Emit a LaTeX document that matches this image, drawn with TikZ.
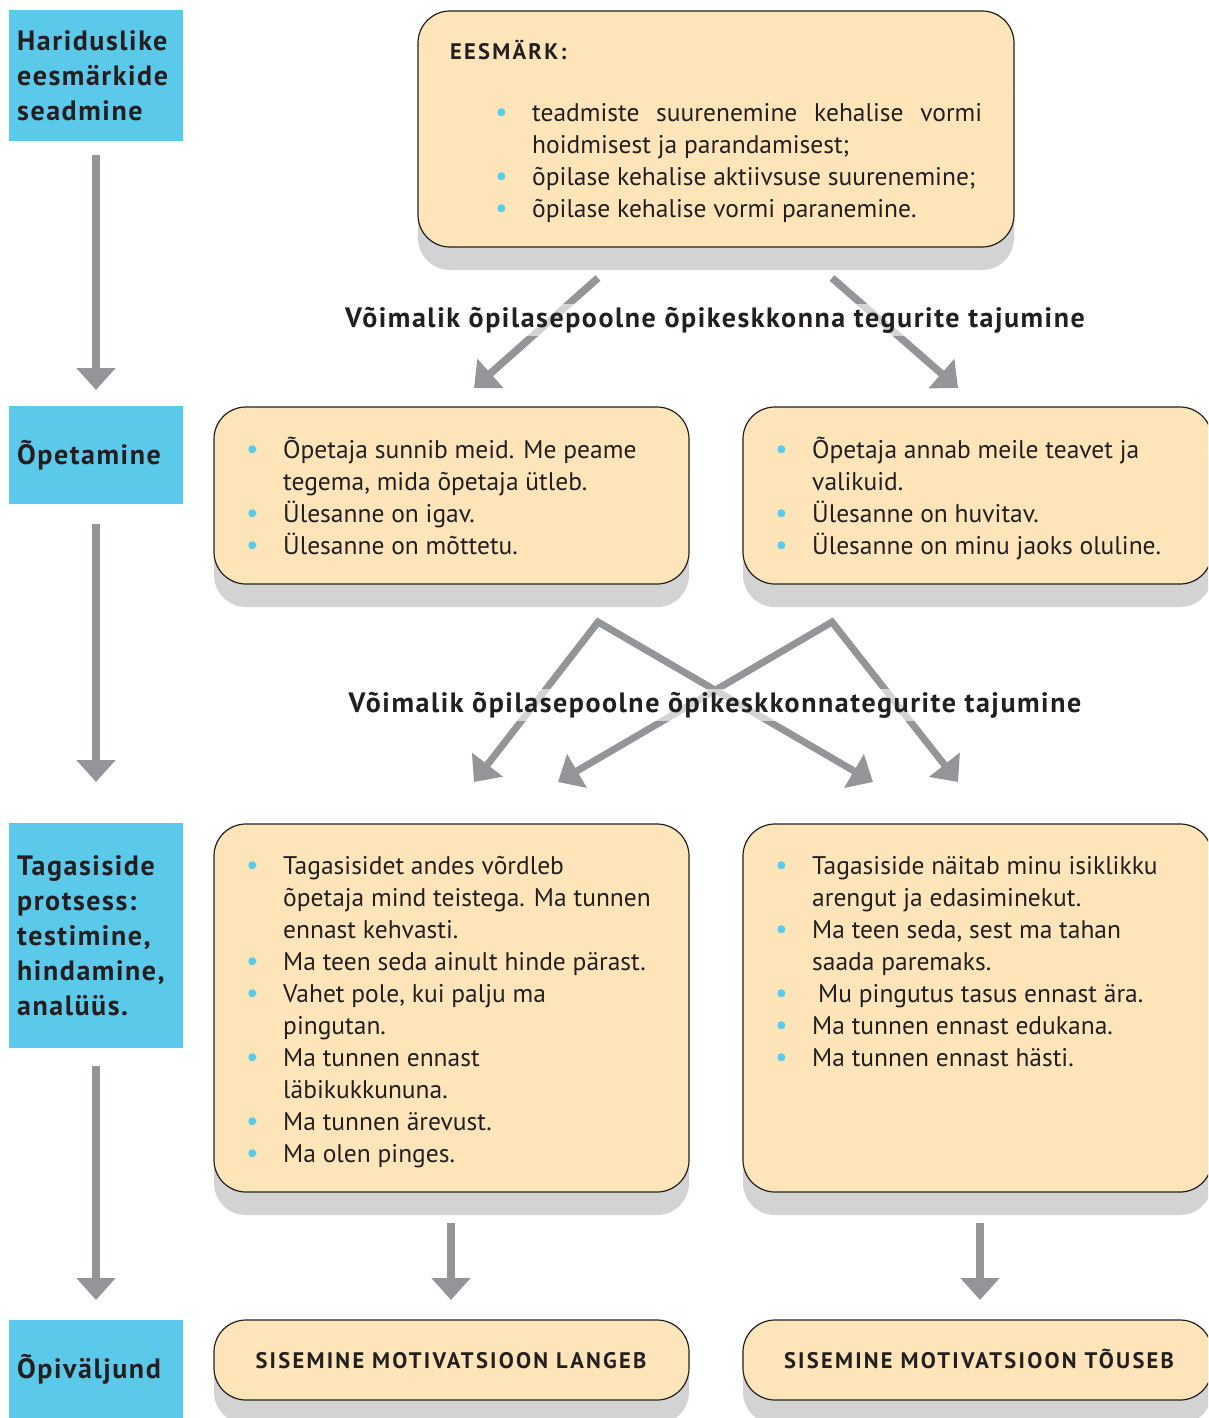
\documentclass[tikz,border=0pt]{standalone}
\usepackage{fontspec}
\setmainfont{PT Sans}
\newfontfamily\trackfont[LetterSpace=10]{PT Sans}
\newfontfamily\labfont[LetterSpace=5.5]{PT Sans}
\usetikzlibrary{arrows.meta}
\definecolor{peach}{HTML}{FDE5B9}
\definecolor{sky}{HTML}{5BC9E9}
\definecolor{arrg}{HTML}{939598}
\definecolor{shad}{HTML}{D3D3D4}
\definecolor{ink}{HTML}{231F20}
\newcommand\bul{\leavevmode\llap{\makebox[37pt][l]{\textcolor{sky}{\fontsize{28}{32}\selectfont•}}}}
\begin{document}
\begin{tikzpicture}[x=1pt,y=-1pt,
  sidebox/.style={fill=sky, inner xsep=8pt, inner ysep=0pt, anchor=north west, minimum width=174pt,
     text width=158pt, align=left, font=\labfont\fontsize{28}{35}\selectfont\bfseries, text=ink},
  peachbox/.style={draw=ink, line width=1.2pt, fill=peach, rounded corners=32pt, inner sep=0pt},
  shadowbox/.style={fill=shad, rounded corners=32pt},
  arrow/.style={draw=arrg, line width=7.5pt, line join=miter, -{Triangle[width=38pt,length=22pt]}},
  twoarrow/.style={draw=arrg, line width=7pt, line join=miter, {Triangle[width=38pt,length=22pt]}-{Triangle[width=38pt,length=22pt]}},
  bodytext/.style={font=\fontsize{25.5}{32}\selectfont, text=ink, inner sep=0pt, anchor=north west, align=left},
  midlabel/.style={font=\labfont\fontsize{28}{32}\selectfont\bfseries, text=ink, fill=white, fill opacity=0.6, text opacity=1, inner xsep=0pt, inner ysep=3pt, anchor=base},
  captext/.style={font=\trackfont\fontsize{22.5}{28}\selectfont\bfseries, text=ink, inner sep=0pt}
]
\useasboundingbox (0,0) rectangle (1208,1418);
\clip (0,0) rectangle (1208,1418);

% side boxes
\node[sidebox, minimum height=131pt] (s1) at (9,10) {Hariduslike\\eesmärkide\\seadmine};
\node[sidebox, minimum height=98pt] (s2) at (9,406) {Õpetamine};
\node[sidebox, minimum height=225pt] (s3) at (9,823) {Tagasiside\\protsess:\\testimine,\\hindamine,\\analüüs.};
\node[sidebox, minimum height=98pt] (s4) at (9,1320) {Õpiväljund};

% side arrows
\coordinate (v1s) at (96,155); \coordinate (v1e) at (96,390);
\coordinate (v2s) at (96,524); \coordinate (v2e) at (96,782);
\coordinate (v3s) at (96,1066); \coordinate (v3e) at (96,1300);
\draw[arrow] (v1s) -- (v1e);
\draw[arrow] (v2s) -- (v2e);
\draw[arrow] (v3s) -- (v3e);

% shadows
\fill[shadowbox] (418,60) rectangle (1014,270);
\fill[shadowbox] (214,440) rectangle (689,607);
\fill[shadowbox] (743,440) rectangle (1212,607);
\fill[shadowbox] (214,860) rectangle (689,1215);
\fill[shadowbox] (743,860) rectangle (1212,1215);
\fill[shadowbox] (214,1345) rectangle (689,1424);
\fill[shadowbox] (743,1345) rectangle (1212,1424);

% peach boxes
\node[peachbox, minimum width=596pt, minimum height=236pt] (goal) at (716,129) {};
\node[peachbox, minimum width=475pt, minimum height=177pt] (tl) at (451.5,495.5) {};
\node[peachbox, minimum width=469pt, minimum height=177pt] (tr) at (977.5,495.5) {};
\node[peachbox, minimum width=475pt, minimum height=368pt] (fl) at (451.5,1008) {};
\node[peachbox, minimum width=469pt, minimum height=368pt] (fr) at (977.5,1008) {};
\node[peachbox, minimum width=475pt, minimum height=80pt] (ol) at (451.5,1360) {};
\node[peachbox, minimum width=469pt, minimum height=80pt] (or) at (977.5,1360) {};

% texts
\node[captext, anchor=base west] (goalh) at (450,60) {EESMÄRK:};
\node[bodytext, text width=450pt, align=justify] (goalt) at (532,98.6)
 {\strut\bul teadmiste suurenemine kehalise vormi\linebreak hoidmisest ja parandamisest;\par
  \bul õpilase kehalise aktiivsuse suurenemine;\par
  \bul õpilase kehalise vormi paranemine.};
\node[bodytext] (tlt) at (283,435.6)
 {\strut\bul Õpetaja sunnib meid. Me peame\\ tegema, mida õpetaja ütleb.\\ \bul Ülesanne on igav.\\ \bul Ülesanne on mõttetu.};
\node[bodytext] (trt) at (812,435.6)
 {\strut\bul Õpetaja annab meile teavet ja\\ valikuid.\\ \bul Ülesanne on huvitav.\\ \bul Ülesanne on minu jaoks oluline.};
\node[bodytext] (flt) at (283,851.6)
 {\strut\bul Tagasisidet andes võrdleb\\ õpetaja mind teistega. Ma tunnen\\ ennast kehvasti.\\
  \bul Ma teen seda ainult hinde pärast.\\ \bul Vahet pole, kui palju ma\\ pingutan.\\
  \bul Ma tunnen ennast\\ läbikukkununa.\\ \bul Ma tunnen ärevust.\\ \bul Ma olen pinges.};
\node[bodytext] (frt) at (812,851.6)
 {\strut\bul Tagasiside näitab minu isiklikku\\ arengut ja edasiminekut.\\
  \bul Ma teen seda, sest ma tahan\\ saada paremaks.\\ \bul\hspace{6pt}Mu pingutus tasus ennast ära.\\
  \bul Ma tunnen ennast edukana.\\ \bul Ma tunnen ennast hästi.};
\node[captext, anchor=base] (olt) at (451,1368) {SISEMINE MOTIVATSIOON LANGEB};
\node[captext, anchor=base] (ort) at (979,1368) {SISEMINE MOTIVATSIOON TÕUSEB};

% diagonal arrows
\coordinate (g1) at (598,278); \coordinate (g1e) at (474,388);
\coordinate (g2) at (832,278); \coordinate (g2e) at (958,388);
\draw[arrow] (g1) -- (g1e);
\draw[arrow] (g2) -- (g2e);
\coordinate (xa) at (598,622); \coordinate (xb) at (832,622);
\coordinate (x1) at (474,782); \coordinate (x2) at (873,782);
\coordinate (x3) at (558,782); \coordinate (x4) at (958,782);
\draw[twoarrow] (x1) -- (xa) -- (x2);
\draw[twoarrow] (x3) -- (xb) -- (x4);
\coordinate (d1s) at (451,1223); \coordinate (d1e) at (451,1300);
\coordinate (d2s) at (980,1223); \coordinate (d2e) at (980,1300);
\draw[arrow] (d1s) -- (d1e);
\draw[arrow] (d2s) -- (d2e);

\node[midlabel] (lab1) at (715,327) {Võimalik õpilasepoolne õpikeskkonna tegurite tajumine};
\node[midlabel] (lab2) at (715,712) {Võimalik õpilasepoolne õpikeskkonnategurite tajumine};
\end{tikzpicture}
\end{document}
